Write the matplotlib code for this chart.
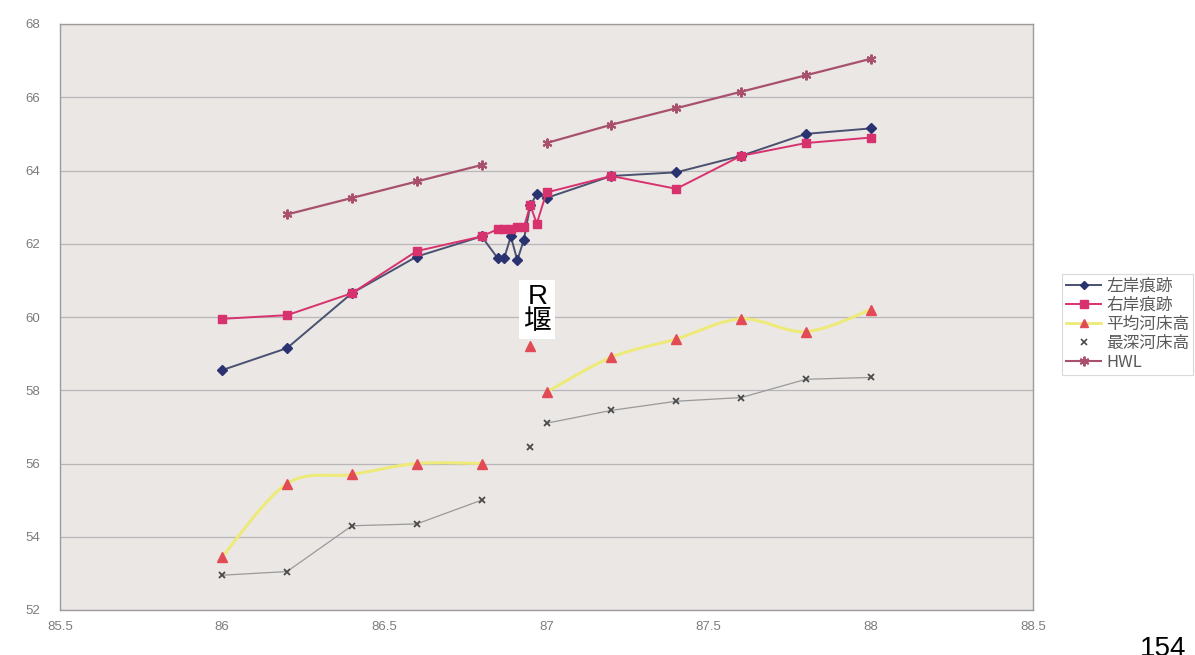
import numpy as np
import matplotlib
matplotlib.use("Agg")
import matplotlib.pyplot as plt
from matplotlib.path import Path
from matplotlib.patches import PathPatch
from matplotlib.lines import Line2D

plt.rcParams['font.family'] = ['Noto Sans CJK JP', 'DejaVu Sans']

# ---- data (distance in km, elevation in m) ----
series_names = ['左岸痕跡', '右岸痕跡', '平均河床高', '最深河床高', 'HWL']

bank_km = [86.0, 86.2, 86.4, 86.6, 86.8, 86.85, 86.87, 86.89, 86.91, 86.93,
           86.95, 86.97, 87.0, 87.2, 87.4, 87.6, 87.8, 88.0]
left_bank = [58.55, 59.15, 60.65, 61.65, 62.2, 61.6, 61.62, 62.2, 61.55, 62.1,
             63.05, 63.35, 63.25, 63.85, 63.95, 64.4, 65.0, 65.15]
right_bank = [59.95, 60.05, 60.65, 61.8, 62.2, 62.4, 62.4, 62.4, 62.45, 62.45,
              63.05, 62.55, 63.4, 63.85, 63.5, 64.4, 64.75, 64.9]

bed_km = [86.0, 86.2, 86.4, 86.6, 86.8, 86.95, 87.0, 87.2, 87.4, 87.6, 87.8, 88.0]
mean_bed = [53.45, 55.45, 55.7, 56.0, 56.0, 59.2, 57.95, 58.9, 59.4, 59.95, 59.6, 60.2]
deepest_bed = [52.95, 53.05, 54.3, 54.35, 55.0, 56.45, 57.1, 57.45, 57.7, 57.8, 58.3, 58.35]
bed_runs = [(0, 5), (5, 6), (6, 12)]

hwl_km = [86.2, 86.4, 86.6, 86.8, 87.0, 87.2, 87.4, 87.6, 87.8, 88.0]
hwl = [62.8, 63.25, 63.7, 64.15, 64.75, 65.25, 65.7, 66.15, 66.6, 67.05]
hwl_runs = [(0, 4), (4, 10)]

x_ticks = [85.5, 86, 86.5, 87, 87.5, 88, 88.5]
y_ticks = [52, 54, 56, 58, 60, 62, 64, 66, 68]
weir_label = 'R\n堰'
page_number = '154'

# ---- colours ----
c_left = '#2b3270'
c_left_line = '#4a5070'
c_right = '#d8326e'
c_mean = '#e24b55'
c_mean_line = '#eeea7a'
c_deep = '#4a4a4a'
c_deep_line = '#9a9a9a'
c_hwl = '#a8506e'

fig = plt.figure(figsize=(11.95, 6.55), dpi=100)
fig.patch.set_facecolor('white')
ax = fig.add_axes([60 / 1195, 1 - 610 / 655, (1033 - 60) / 1195, (610 - 24) / 655])
ax.set_facecolor('#eae7e5')
ax.set_xlim(85.5, 88.5)
ax.set_ylim(52, 68)
ax.set_xticks(x_ticks)
ax.set_yticks(y_ticks)
ax.set_xticklabels([f'{v:g}' for v in x_ticks])
ax.set_yticklabels([f'{v:g}' for v in y_ticks])
ax.tick_params(length=0, labelsize=9.5, labelcolor='#7c7c7c')
ax.tick_params(axis='y', pad=14)
ax.tick_params(axis='x', pad=8)
for lab in ax.get_xticklabels() + ax.get_yticklabels():
    lab.set_fontfamily('Liberation Sans')
ax.grid(axis='y', color='#b8b6b6', linewidth=0.9)
ax.set_axisbelow(True)
for sp in ax.spines.values():
    sp.set_color('#9c9c9c')
    sp.set_linewidth(1.0)


def smooth_path(xs, ys):
    """Smoothed (Catmull-Rom style) Bezier path through the given points."""
    pts = np.column_stack([xs, ys]).astype(float)
    n = len(pts)
    if n < 2:
        return None
    verts = [pts[0]]
    codes = [Path.MOVETO]
    for i in range(n - 1):
        p0 = pts[i - 1] if i > 0 else pts[i]
        p1 = pts[i]
        p2 = pts[i + 1]
        p3 = pts[i + 2] if i + 2 < n else pts[i + 1]
        c1 = p1 + (p2 - p0) / 6.0
        c2 = p2 - (p3 - p1) / 6.0
        verts += [c1, c2, p2]
        codes += [Path.CURVE4] * 3
    return Path(verts, codes)


# mean bed elevation: smoothed yellow line in runs, red triangles
for a, b in bed_runs:
    p = smooth_path(bed_km[a:b], mean_bed[a:b])
    if p is not None:
        ax.add_patch(PathPatch(p, facecolor='none', edgecolor=c_mean_line,
                               linewidth=2.2, zorder=2))
ax.plot(bed_km, mean_bed, linestyle='none', marker='^', markersize=7,
        color=c_mean, zorder=4)

# deepest bed elevation
for a, b in bed_runs:
    ax.plot(bed_km[a:b], deepest_bed[a:b], color=c_deep_line, linewidth=0.9, zorder=2)
ax.plot(bed_km, deepest_bed, linestyle='none', marker='x', markersize=4,
        markeredgewidth=1.3, color=c_deep, zorder=4)

# HWL
for a, b in hwl_runs:
    ax.plot(hwl_km[a:b], hwl[a:b], color=c_hwl, linewidth=1.6, zorder=3)
ax.plot(hwl_km, hwl, linestyle='none', marker=(6, 2, 0), markersize=7,
        markeredgewidth=1.5, color=c_hwl, zorder=4)

# flood marks, left and right bank
ax.plot(bank_km, left_bank, color=c_left_line, linewidth=1.4, marker='D',
        markersize=5, markerfacecolor=c_left, markeredgecolor=c_left, zorder=5)
ax.plot(bank_km, right_bank, color=c_right, linewidth=1.4, marker='s',
        markersize=6, markerfacecolor=c_right, markeredgecolor=c_right, zorder=6)

# weir annotation
ax.text(86.972, 60.2, weir_label, ha='center', va='center', fontsize=20,
        linespacing=0.95, color='black',
        family=['Liberation Sans', 'Noto Sans CJK JP'],
        bbox=dict(facecolor='white', edgecolor='none', pad=3), zorder=7)

# legend
handles = [
    Line2D([], [], color=c_left_line, linewidth=1.4, marker='D', markersize=4,
           markerfacecolor=c_left, markeredgecolor=c_left),
    Line2D([], [], color=c_right, linewidth=1.4, marker='s', markersize=6,
           markerfacecolor=c_right, markeredgecolor=c_right),
    Line2D([], [], color=c_mean_line, linewidth=2.0, marker='^', markersize=6,
           markerfacecolor=c_mean, markeredgecolor=c_mean),
    Line2D([], [], color='none', marker='x', markersize=4, markeredgewidth=1.2,
           markeredgecolor=c_deep),
    Line2D([], [], color=c_hwl, linewidth=1.5, marker=(6, 2, 0), markersize=7,
           markeredgewidth=1.4, markeredgecolor=c_hwl),
]
leg = fig.legend(handles, series_names, loc='upper left',
                 bbox_to_anchor=(1062 / 1195, 1 - 274 / 655),
                 frameon=True, fontsize=12, handlelength=2.1, handletextpad=0.3,
                 labelspacing=0.12, borderpad=0.25, borderaxespad=0.0,
                 fancybox=False, labelcolor='#5a5a5a')
leg.get_frame().set_edgecolor('#d0d0d0')
leg.get_frame().set_linewidth(0.8)

fig.text(1163 / 1195, 1 - 636 / 655, page_number, ha='center', va='top',
         fontsize=20, color='black', family='Liberation Sans')

fig.savefig('out.png', dpi=100, facecolor='white')
